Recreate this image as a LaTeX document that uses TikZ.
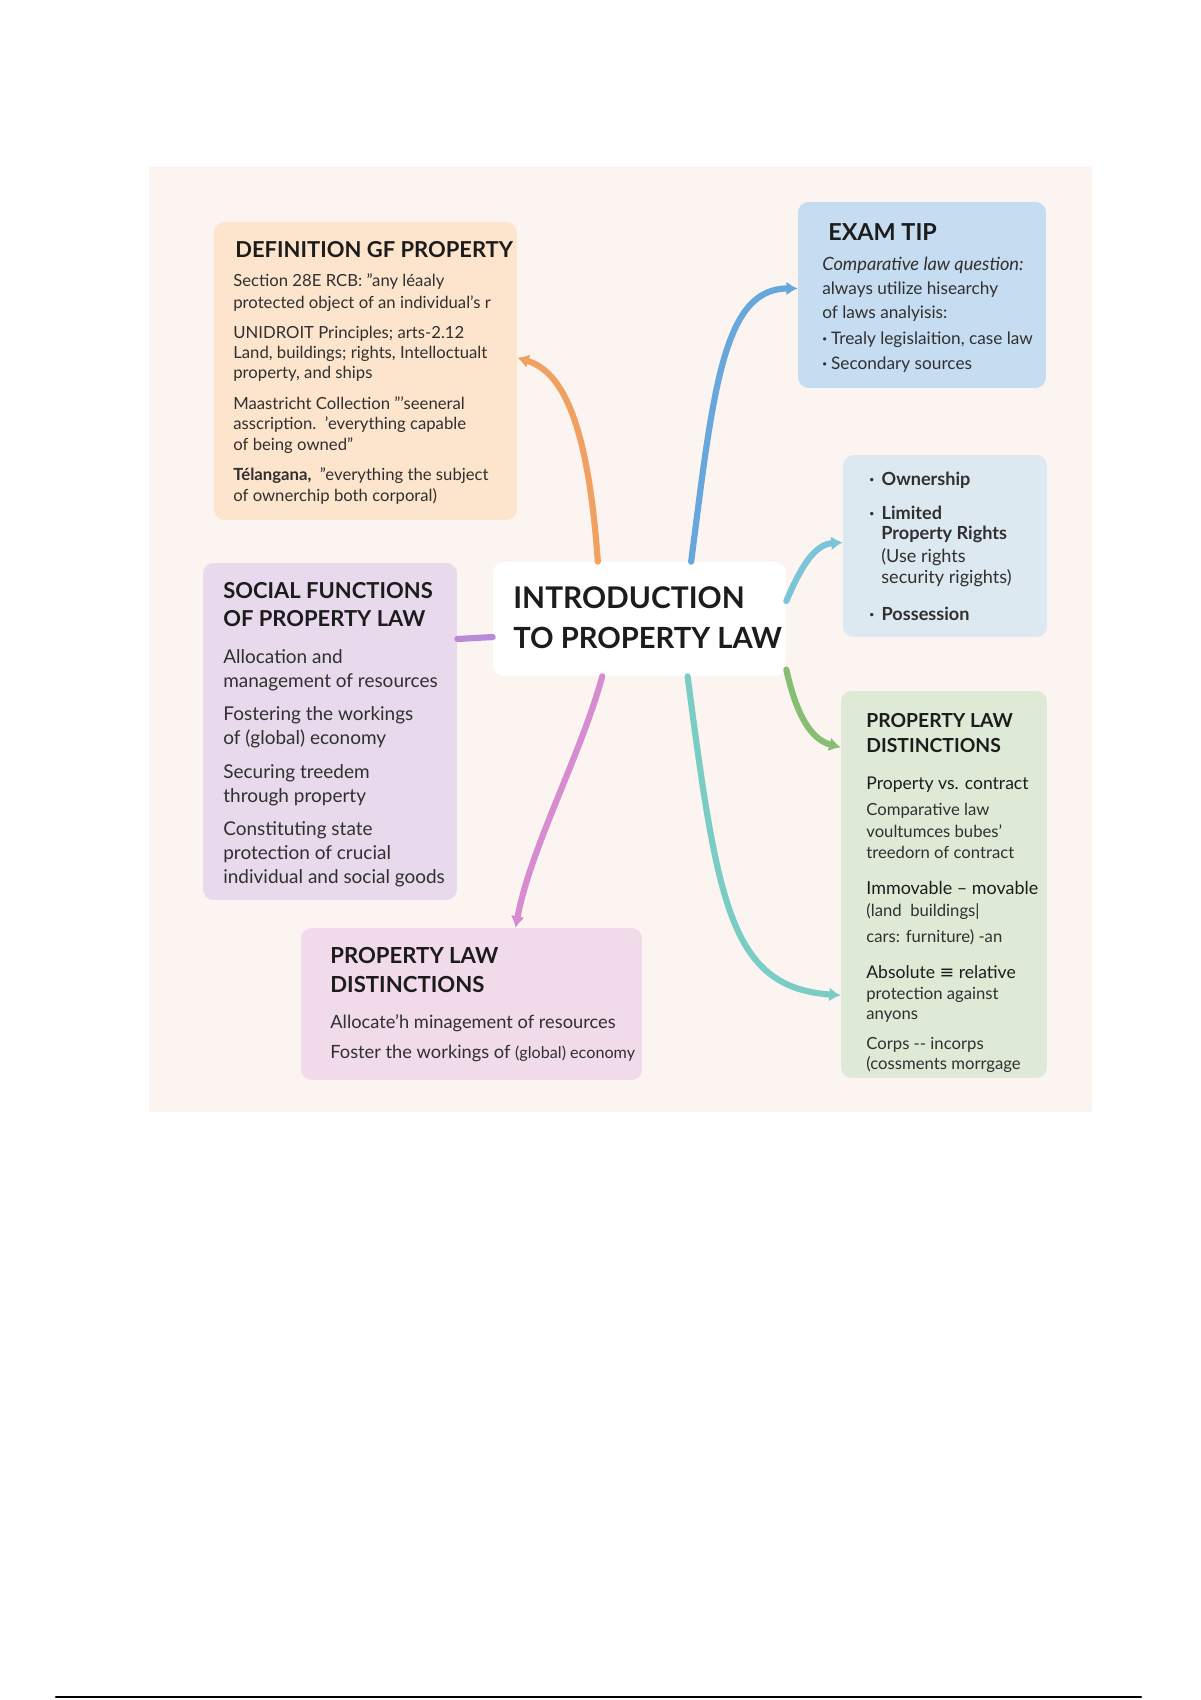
\documentclass[tikz,border=0pt]{standalone}
\usepackage{fontspec}
\setmainfont{Lato}
\newfontfamily\symfont{DejaVu Sans}
\usetikzlibrary{arrows.meta}
\definecolor{panelBg}{HTML}{FBF4F1}
\definecolor{defPeach}{HTML}{FDE4CC}
\definecolor{tipBlue}{HTML}{C6DCF1}
\definecolor{ownGrey}{HTML}{DCE9F0}
\definecolor{socLilac}{HTML}{E8DAEC}
\definecolor{botPink}{HTML}{F1DAEA}
\definecolor{dstGreen}{HTML}{DEEAD5}
\definecolor{inkDark}{HTML}{1C1C1C}
\definecolor{inkBody}{HTML}{303030}
\definecolor{arrOrange}{HTML}{F0A060}
\definecolor{arrBlue}{HTML}{67A7DC}
\definecolor{arrCyan}{HTML}{7CC4D8}
\definecolor{arrGreen}{HTML}{86BF74}
\definecolor{arrTeal}{HTML}{7ACDC4}
\definecolor{arrMagenta}{HTML}{D68CCF}
\definecolor{arrPurple}{HTML}{B98AD8}
\newcommand{\pdot}[1]{\makebox[#1][l]{\bfseries ·}}
\tikzset{
    pbox/.style={rounded corners=6pt, inner sep=0pt, draw=none},
    ptitle/.style={anchor=base west, inner sep=0pt, text=inkDark, font=\fontsize{12.5}{15}\selectfont\bfseries},
    ptext/.style={anchor=base west, inner sep=0pt, text=inkBody, font=\fontsize{9.5}{11}\selectfont},
    pline/.style={line width=3.5pt, -{Latex[length=6.5pt, width=8pt]}}
}

\begin{document}
\begin{tikzpicture}[x=0.02cm, y=-0.02cm, line cap=round, line join=round]
    \useasboundingbox (0,0) rectangle (1200,1700);
    \fill[white] (0,0) rectangle (1200,1700);
    \fill[panelBg] (149,166) rectangle (1092,1112);

    % cards
    \node[pbox, fill=defPeach, minimum width=6.06cm, minimum height=5.96cm] (def) at (365.5,371) {};
    \node[pbox, fill=tipBlue, minimum width=4.96cm, minimum height=3.72cm] (exam) at (922,295) {};
    \node[pbox, fill=ownGrey, minimum width=4.08cm, minimum height=3.64cm] (own) at (945,546) {};
    \node[pbox, fill=socLilac, minimum width=5.08cm, minimum height=6.74cm] (soc) at (330,731.5) {};
    \node[pbox, fill=white, minimum width=5.86cm, minimum height=2.28cm] (cen) at (639.5,619) {};
    \node[pbox, fill=botPink, minimum width=6.82cm, minimum height=3.04cm] (bot) at (471.5,1004) {};
    \node[pbox, fill=dstGreen, minimum width=4.12cm, minimum height=7.74cm] (dst) at (944,884.5) {};

    % connectors
    \draw[pline, arrOrange] (cen.126) .. controls +(-10,-140) and +(45,14) .. (def.5);
    \draw[pline, arrBlue] (cen.48.5) .. controls +(22,-170) and +(-75,0) .. (exam.177);
    \draw[pline, arrCyan] (cen.7) .. controls +(15,-35) and +(-28,2) .. (own.178);
    \draw[pline, arrGreen] (cen.341.5) .. controls +(10,45) and +(-30,-8) .. (dst.127);
    \draw[pline, arrTeal] (cen.310) .. controls +(30,230) and +(-110,-8) .. (dst.227);
    \draw[pline, arrMagenta] (cen.237) .. controls +(-22,80) and +(15,-80) .. (bot.60);
    \draw[line width=3.5pt, arrPurple] (cen.187) -- (soc.36);

    % central topic
    \node[ptitle, font=\fontsize{17}{20}\selectfont\bfseries] (cen-a) at (513,608) {INTRODUCTION};
    \node[ptitle, font=\fontsize{16.6}{20}\selectfont\bfseries] (cen-b) at (513,648) {TO PROPERTY LAW};

    % definition card
    \node[ptitle] (def-t) at (235,257) {DEFINITION GF PROPERTY};
    \foreach \yy/\tx [count=\i] in {
        286/{Section 28E RCB: "any léaaly},
        308/{protected object of an individual's r},
        338/{UNIDROIT Principles; arts-2.12},
        358/{Land, buildings; rights, Intelloctualt},
        378/{property, and ships},
        409/{Maastricht Collection "'seeneral},
        429/{asscription.\ \ 'everything capable},
        450/{of being owned"},
        480/{{\bfseries Télangana,}\ \ "everything the subject},
        501/{of ownerchip both corporal)}}
        \node[ptext] (def-l\i) at (233,\yy) {\tx};

    % exam tip card
    \node[ptitle, font=\fontsize{13.3}{16}\selectfont\bfseries] (exam-t) at (828,240) {EXAM TIP};
    \foreach \yy/\tx [count=\i] in {
        270/{\fontsize{10.4}{12}\selectfont\itshape Comparative law question:},
        294/{always utilize hisearchy},
        318/{of laws analyisis:},
        344/{\pdot{5pt}Trealy legislaition, case law},
        369/{\pdot{5pt}Secondary sources}}
        \node[ptext, font=\fontsize{9.8}{12}\selectfont] (exam-l\i) at (822,\yy) {\tx};

    % rights card
    \foreach \yy/\xx/\tx [count=\i] in {
        485/869/{\bfseries\pdot{7pt}Ownership},
        519/869/{\bfseries\pdot{7pt}Limited},
        539/881/{\bfseries Property Rights},
        562/881/{(Use rights},
        583/881/{security rigights)},
        620/869/{\bfseries\pdot{7pt}Possession}}
        \node[ptext, font=\fontsize{10.3}{12}\selectfont] (own-l\i) at (\xx,\yy) {\tx};

    % social functions card
    \node[ptitle] (soc-a) at (223,598) {SOCIAL FUNCTIONS};
    \node[ptitle] (soc-b) at (223,626) {OF PROPERTY LAW};
    \foreach \yy/\tx [count=\i] in {
        663/{Allocation and},
        687/{management of resources},
        720/{Fostering the workings},
        744/{of (global) economy},
        778/{Securing treedem},
        802/{through property},
        835/{Constituting state},
        859/{protection of crucial},
        883/{individual and social goods}}
        \node[ptext, font=\fontsize{10.8}{13}\selectfont] (soc-l\i) at (223,\yy) {\tx};

    % lower distinctions card
    \node[ptitle, font=\fontsize{12.6}{15}\selectfont\bfseries] (bot-a) at (330,963) {PROPERTY LAW};
    \node[ptitle, font=\fontsize{12.6}{15}\selectfont\bfseries] (bot-b) at (330,992) {DISTINCTIONS};
    \node[ptext, font=\fontsize{10.4}{12}\selectfont] (bot-l1) at (330,1028) {Allocate'h minagement of resources};
    \node[ptext, font=\fontsize{10.4}{12}\selectfont] (bot-l2) at (330,1058) {Foster the workings of {\fontsize{9.2}{10}\selectfont (global) economy}};

    % right distinctions card
    \node[ptitle, font=\fontsize{11}{13}\selectfont\bfseries] (dst-a) at (866,727) {PROPERTY LAW};
    \node[ptitle, font=\fontsize{11}{13}\selectfont\bfseries] (dst-b) at (866,752) {DISTINCTIONS};
    \foreach \yy/\tx [count=\i] in {
        789/{\fontsize{10}{12}\selectfont\color{inkDark}Property vs. contract},
        815/{Comparative law},
        837/{voultumces bubes'},
        858/{treedorn of contract},
        894/{\fontsize{10.2}{12}\selectfont\color{inkDark}Immovable – movable},
        916/{(land\ \ buildings|},
        942/{cars: furniture) -an},
        978/{\fontsize{10}{12}\selectfont\color{inkDark}Absolute {\symfont ≡} relative},
        999/{protection against},
        1019/{anyons},
        1049/{Corps -{}- incorps},
        1069/{(cossments morrgage}}
        \node[ptext, font=\fontsize{9.5}{11}\selectfont] (dst-l\i) at (866,\yy) {\tx};

    \draw[line width=1.6pt, black] (56,1697) -- (1141,1697);
\end{tikzpicture}
\end{document}
